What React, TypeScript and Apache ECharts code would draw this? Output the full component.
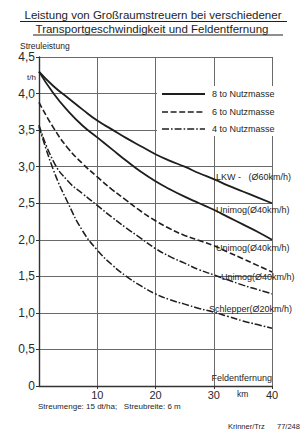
import React, { useEffect, useRef } from "react";
import * as echarts from "echarts";

// Feldentfernung (km)
const km = [0, 2.5, 5, 7.5, 10, 12.5, 15, 17.5, 20, 22.5, 25, 27.5, 30, 32.5, 35, 37.5, 40];
// 8 to Nutzmasse
const lkw60 = [4.3, 4.1, 3.94, 3.78, 3.63, 3.51, 3.39, 3.28, 3.17, 3.08, 3.0, 2.91, 2.83, 2.74, 2.66, 2.58, 2.5];
const unimog8 = [4.3, 4.0, 3.76, 3.56, 3.4, 3.24, 3.08, 2.93, 2.8, 2.69, 2.59, 2.5, 2.41, 2.31, 2.21, 2.11, 2.0];
// 6 to Nutzmasse
const unimog6 = [3.88, 3.53, 3.25, 3.04, 2.86, 2.69, 2.54, 2.39, 2.26, 2.15, 2.06, 1.99, 1.92, 1.83, 1.74, 1.65, 1.56];
// 4 to Nutzmasse
const unimog4 = [3.57, 3.07, 2.8, 2.63, 2.47, 2.31, 2.16, 2.02, 1.88, 1.77, 1.68, 1.59, 1.52, 1.45, 1.38, 1.32, 1.26];
const schlepper4 = [3.55, 2.95, 2.5, 2.12, 1.86, 1.66, 1.5, 1.37, 1.26, 1.18, 1.12, 1.06, 1.01, 0.95, 0.89, 0.84, 0.79];

const xTicks = [0, 10, 20, 30, 40];
const yTicks = [0, 0.5, 1, 1.5, 2, 2.5, 3, 3.5, 4, 4.5];

const legendNames = ["8 to Nutzmasse", "6 to Nutzmasse", "4 to Nutzmasse"];
const curveLabels = [
  "LKW -   (Ø60km/h)",
  "Unimog(Ø40km/h)",
  "Unimog(Ø40km/h)",
  "Unimog(Ø40km/h)",
  "Schlepper(Ø20km/h)",
];

const FONT = "Liberation Sans, Arial, sans-serif";
const INK = "#1e1e1e";
const GRID = "#6a6a6a";

const SOLID: any = "solid";
const DASHED: any = [6, 2.6];
const DASHDOT: any = [7, 2, 1.6, 2];

const zip = (vals: number[]) => km.map((k, i) => [k, vals[i]]);

export default function App() {
  const ref = useRef<HTMLDivElement>(null);
  useEffect(() => {
    if (!ref.current) return;
    const chart = echarts.init(ref.current, null, { renderer: "svg" });
    const lineSeries = (name: string, vals: number[], type: any, width: number) => ({
      type: "line",
      name,
      data: zip(vals),
      smooth: 0.5,
      showSymbol: false,
      symbol: "none",
      lineStyle: { color: INK, width, type },
      z: 5,
    });
    const txt = (text: string, x: number, y: number, size: number, align = "left", extra: any = {}) => ({
      type: "text",
      x,
      y,
      z: 60,
      style: {
        text,
        fill: INK,
        font: `${size}px ${FONT}`,
        textAlign: align,
        textVerticalAlign: "middle",
        ...extra,
      },
    });
    const gline = (x1: number, y1: number, x2: number, y2: number, type: any, width = 1.6) => ({
      type: "line",
      z: 60,
      shape: { x1, y1, x2, y2 },
      style: { stroke: INK, lineWidth: width, lineDash: type === "solid" ? null : type },
    });
    chart.setOption({
      animation: false,
      backgroundColor: "#ffffff",
      grid: { left: 39, right: 34, top: 57, bottom: 46, containLabel: false },
      xAxis: {
        type: "value",
        min: xTicks[0],
        max: xTicks[xTicks.length - 1],
        interval: 10,
        axisLine: { show: true, lineStyle: { color: "#333", width: 1.4 } },
        axisTick: { show: true, length: 3, lineStyle: { color: "#333" } },
        splitLine: { show: true, lineStyle: { color: GRID, width: 1 } },
        axisLabel: {
          showMinLabel: false,
          color: "#2a2a2a",
          fontFamily: FONT,
          fontSize: 11,
          margin: 3,
        },
      },
      yAxis: {
        type: "value",
        min: yTicks[0],
        max: yTicks[yTicks.length - 1],
        interval: 0.5,
        axisLine: { show: true, lineStyle: { color: "#333", width: 1.4 } },
        axisTick: { show: true, length: 3, lineStyle: { color: "#333" } },
        splitLine: { show: true, lineStyle: { color: GRID, width: 1 } },
        axisLabel: {
          color: "#2a2a2a",
          fontFamily: FONT,
          fontSize: 12,
          margin: 4,
          formatter: (v: number) => (v === 0 ? "0" : v.toFixed(1).replace(".", ",")),
        },
      },
      series: [
        lineSeries(curveLabels[0], lkw60, SOLID, 1.8),
        lineSeries("Unimog 8t", unimog8, SOLID, 1.8),
        lineSeries("Unimog 6t", unimog6, DASHED, 1.6),
        lineSeries("Unimog 4t", unimog4, DASHDOT, 1.5),
        lineSeries(curveLabels[4], schlepper4, DASHDOT, 1.5),
      ],
      graphic: [
        // title
        txt("Leistung von Großraumstreuern bei verschiedener", 153, 15, 11.5, "center"),
        gline(20, 21.5, 287, 21.5, "solid", 1),
        txt("Transportgeschwindigkeit und Feldentfernung", 152, 29, 11.5, "center"),
        gline(33, 35, 283, 35, "solid", 1),
        // axis titles
        txt("Streuleistung", 20, 46, 8.5),
        txt("t/h", 27, 77, 8),
        txt("Feldentfernung", 272, 378, 9, "right"),
        txt("km", 237, 394, 8.5),
        // legend
        { type: "rect", z: 55, shape: { x: 157, y: 86, width: 118, height: 50 }, style: { fill: "#ffffff" } },
        gline(162, 94, 205, 94, SOLID, 1.8),
        gline(162, 112, 205, 112, DASHED, 1.6),
        gline(162, 129, 205, 129, DASHDOT, 1.5),
        txt(legendNames[0], 212, 94, 9),
        txt(legendNames[1], 212, 112, 9),
        txt(legendNames[2], 212, 129, 9),
        // curve labels
        txt(curveLabels[0], 216, 177, 9),
        txt(curveLabels[1], 216, 210, 9),
        txt(curveLabels[2], 216, 248, 9),
        txt(curveLabels[3], 221, 277, 9),
        txt(curveLabels[4], 209, 309, 9),
        // footer
        txt("Streumenge: 15 dt/ha;   Streubreite: 6 m", 38, 406, 8),
        txt("Krinner/Trz", 228, 426, 7.5),
        txt("77/248", 277, 426, 7.5),
      ],
    });
    return () => chart.dispose();
  }, []);
  return (
    <div
      ref={ref}
      style={{ position: "fixed", left: 0, top: 0, width: 306, height: 432, background: "#fff" }}
    />
  );
}
